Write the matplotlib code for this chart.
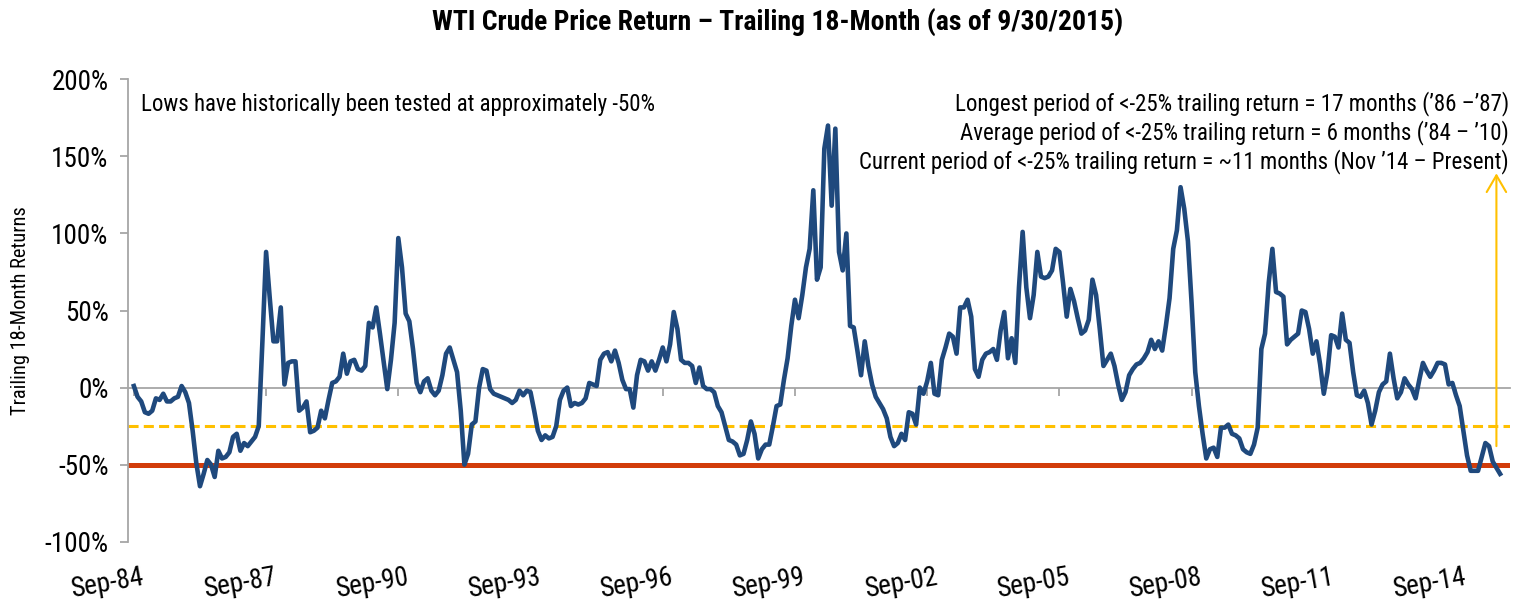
import matplotlib
matplotlib.use('Agg')
import matplotlib.pyplot as plt
from matplotlib import font_manager as fm
import matplotlib.transforms as mtransforms

names = {f.name for f in fm.fontManager.ttflist}
FONT = 'Liberation Sans'
for cand in ['Roboto Condensed', 'Liberation Sans Narrow']:
    if cand in names:
        FONT = cand
        break
NARROW = FONT != 'Liberation Sans'
plt.rcParams['font.family'] = [FONT, 'DejaVu Sans']

# ---------------- data ----------------
title = 'WTI Crude Price Return \u2013 Trailing 18-Month (as of 9/30/2015)'
y_label = 'Trailing 18-Month Returns'
tick_labels = ['Sep-84', 'Sep-87', 'Sep-90', 'Sep-93', 'Sep-96', 'Sep-99',
               'Sep-02', 'Sep-05', 'Sep-08', 'Sep-11', 'Sep-14']
tick_step_months = 36
y_ticks = [-100, -50, 0, 50, 100, 150, 200]

# monthly trailing 18-month returns (%), Sep-84 .. Sep-15
returns_pct = [
    1, -6, -9, -16, -17, -15, -7, -8, -4, -9, -9, -7, -6, 1, -3, -10, -28, -49, -64, -56,
    -47, -50, -58, -41, -46, -45, -42, -32, -30, -41, -36, -38, -35, -32, -25, 30, 88,
    58, 30, 30, 52, 2, 16, 17, 17, -15, -13, -9, -29, -28, -26, -15, -20, -8, 3, 4, 7,
    22, 9, 17, 18, 12, 11, 14, 42, 39, 52, 35, 17, -1, 18, 42, 97,
    78, 48, 43, 25, 3, -3, 4, 6, -2, -5, -2, 8, 22, 26, 18, 10, -15, -50, -43, -24,
    -22, 0, 12, 11, -1, -4, -5, -6, -7, -8, -10, -8, -2, -5, -2, -3, -15,
    -28, -34, -31, -33, -32, -25, -8, -2, 0, -12, -10, -11, -10, -7, 3, 2, 1, 18, 22,
    23, 17, 24, 16, 5, -1, -1, -13, 8, 18, 17, 11, 17, 11, 18, 26, 17,
    28, 49, 38, 18, 16, 16, 14, 3, 13, 1, -1, -1, -3, -12, -16, -25, -34, -35, -37,
    -44, -43, -34, -22, -30, -46, -40, -37, -37, -25, -12, -11, 5, 19, 40, 57, 45,
    60, 78, 90, 128, 70, 78, 155, 170, 118, 168, 88, 76, 100, 40, 39, 24, 8, 30, 14,
    2, -6, -10, -14, -20, -32, -38,
    -36, -30, -34, -16, -17, -24, 0, -4, 4, 16, -4, -5, 18, 26, 35, 33, 22, 52, 52,
    57, 46, 12, 7, 18, 22, 23, 25, 18, 37, 49, 19, 32, 16, 65, 101, 65, 45, 60,
    88, 72, 71, 72, 76, 90, 88, 68, 46, 64, 56, 45, 35, 37, 44, 70, 60, 38, 14, 18,
    22, 14, 2, -8, -3, 8, 12, 15, 16, 19, 23, 31, 25, 30, 24, 40, 58,
    90, 102, 130, 116, 95, 55, 10, -12, -30, -46, -40, -39, -45, -26, -26, -24, -30,
    -31, -33, -40, -42, -43, -37, -26, 25, 35, 68, 90, 62, 61, 59, 28, 31, 33,
    35, 50, 49, 38, 22, 30, 15, -4, 10, 34, 33, 26, 48, 31, 29, 10, -5, -6, -2, -10,
    -24, -15, -3, 2, 4, 22, 6, -7, -3, 6, 2, -1, -7, 5, 16, 11, 7, 11, 16,
    16, 15, 2, 3, -5, -12, -28, -44, -54, -54, -54, -45, -36, -38, -48, -52, -56,
]
low_level = -50
warn_level = -25
arrow_from, arrow_to = -38, 139

note_left = 'Lows have historically been tested at approximately -50%'
notes_right = [
    'Longest period of <-25% trailing return = 17 months (\u201986 \u2013\u201987)',
    'Average period of <-25% trailing return = 6 months (\u201984 \u2013 \u201910)',
    'Current period of <-25% trailing return = ~11 months (Nov \u201914 \u2013 Present)',
]

# ---------------- styles ----------------
W, H = 1514, 605
BLUE = '#1F497D'
RED = '#D23C0A'
GOLD = '#FFC000'
GRAY = '#A6A6A6'

if NARROW:
    FS_TITLE, FS_NOTE, FS_YT, FS_XT, FS_YL = 20, 16.5, 19.5, 19.5, 14.7
else:
    FS_TITLE, FS_NOTE, FS_YT, FS_XT, FS_YL = 17.2, 14.5, 16.5, 17, 13.5

fig = plt.figure(figsize=(W / 100, H / 100), dpi=100)
ax = fig.add_axes([128 / W, 1 - 541.7 / H, (1510 - 128) / W, (541.7 - 79.3) / H])

n = len(returns_pct)
xs = list(range(n))
ax.axhline(warn_level, color=GOLD, lw=2.2, linestyle=(0, (3.3, 1.7)), zorder=2)
ax.axhline(low_level, color=RED, lw=3.6, zorder=2)
ax.plot(xs, returns_pct, color=BLUE, lw=3.3, solid_joinstyle='round', zorder=3)

ax.set_xlim(-1.6, n - 1 + 2.7)
ax.set_ylim(-100, 200)

for s in ['top', 'right']:
    ax.spines[s].set_visible(False)
ax.spines['left'].set_color(GRAY)
ax.spines['left'].set_linewidth(1.3)
ax.spines['bottom'].set_position(('data', 0))
ax.spines['bottom'].set_color(GRAY)
ax.spines['bottom'].set_linewidth(1.3)

ax.set_yticks(y_ticks)
ax.set_yticklabels([f'{v}%' for v in y_ticks])
ax.tick_params(axis='y', direction='out', length=6, width=1.3, color=GRAY,
               labelsize=FS_YT, pad=8)

xt = [i * tick_step_months for i in range(len(tick_labels))]
ax.set_xticks(xt)
ax.set_xticklabels(tick_labels)
ax.tick_params(axis='x', direction='out', length=6, width=1.3, color=GRAY,
               labelsize=FS_XT, pad=121)
off = mtransforms.ScaledTranslation(8 / 100, 0, fig.dpi_scale_trans)
for lab in ax.get_xticklabels():
    lab.set_rotation(10)
    lab.set_ha('right')
    lab.set_va('top')
    lab.set_rotation_mode('anchor')
    lab.set_transform(lab.get_transform() + off)

ax.set_ylabel(y_label, fontsize=FS_YL)
ax.yaxis.set_label_coords(-(128 - 30) / (1510 - 128), 0.5)

# arrow for current period
ax.annotate('', xy=(n - 2, arrow_to), xytext=(n - 2, arrow_from),
            arrowprops=dict(arrowstyle='->,head_length=1.2,head_width=0.7',
                            color=GOLD, lw=1.5, shrinkA=0, shrinkB=0), zorder=4)

fig.text(778 / W, 1 - 22 / H, title, ha='center', va='center',
         fontsize=FS_TITLE, fontweight='bold')
fig.text(141 / W, 1 - 104 / H, note_left, ha='left', va='center', fontsize=FS_NOTE)
for k, t in enumerate(notes_right):
    fig.text(1509 / W, 1 - (104 + 29 * k) / H, t, ha='right', va='center', fontsize=FS_NOTE)

fig.savefig('out.png', dpi=100)
